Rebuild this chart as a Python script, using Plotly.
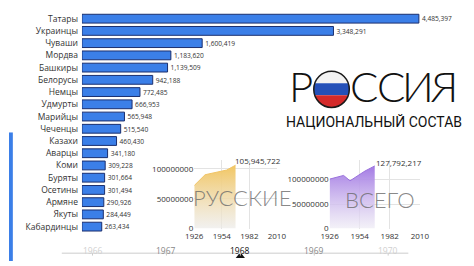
import math
import plotly.graph_objects as go

# ---------------- data ----------------
nations = ["Татары", "Украинцы", "Чуваши", "Мордва", "Башкиры", "Белорусы", "Немцы",
           "Удмурты", "Марийцы", "Чеченцы", "Казахи", "Аварцы", "Коми", "Буряты",
           "Осетины", "Армяне", "Якуты", "Кабардинцы"]
counts = [4485397, 3348291, 1600419, 1183620, 1139509, 942188, 772485,
          666953, 565948, 515540, 460430, 341180, 309228, 301664,
          301494, 290926, 284449, 263434]

russ_years = [1926, 1937, 1959, 1968]
russ_vals = [72000000, 90000000, 97900000, 105945722]

total_years = [1926, 1939, 1945, 1959, 1968]
total_vals = [100900000, 108400000, 97500000, 117500000, 127792217]

area_ticks_x = [1926, 1954, 1982, 2010]
area_ticks_y = [0, 50000000, 100000000]

timeline_years = [1966, 1967, 1968, 1969, 1970]
current_year = 1968

W, H = 474, 266
def px(x):
    return x / W
def py(y):
    return 1 - y / H

LABEL_FONT = "Open Sans, Noto Sans, sans-serif"
TITLE_FONT = "Roboto, Liberation Sans, sans-serif"
THIN_FONT = "Lato, Roboto, sans-serif"

fig = go.Figure()

# ---------------- bar chart ----------------
fig.add_trace(go.Bar(
    x=counts, y=nations, orientation="h",
    marker=dict(color="#3b7fe8", line=dict(color="#1b2f6e", width=1)),
    width=0.72,
    text=counts, texttemplate="%{x:,}", textposition="outside",
    textfont=dict(size=8.3, color="#333", family=LABEL_FONT),
    cliponaxis=False, xaxis="x", yaxis="y", showlegend=False,
))

# ---------------- area charts ----------------
fig.add_trace(go.Scatter(
    x=russ_years, y=russ_vals, mode="lines", fill="tozeroy",
    line=dict(color="#f0c466", width=1),
    fillgradient=dict(type="vertical", start=0, stop=max(russ_vals),
                      colorscale=[[0, "rgba(236,236,236,0.7)"], [1, "rgba(242,198,98,1)"]]),
    xaxis="x2", yaxis="y2", showlegend=False, hoverinfo="skip",
))
fig.add_trace(go.Scatter(
    x=total_years, y=total_vals, mode="lines", fill="tozeroy",
    line=dict(color="#9a72dc", width=1),
    fillgradient=dict(type="vertical", start=0, stop=max(total_vals),
                      colorscale=[[0, "rgba(240,238,245,0.7)"], [1, "rgba(163,122,228,1)"]]),
    xaxis="x3", yaxis="y3", showlegend=False, hoverinfo="skip",
))

# timeline marker
fig.add_trace(go.Scatter(
    x=[current_year], y=[0.5], mode="markers",
    marker=dict(symbol="triangle-up", size=8, color="#111"),
    xaxis="x4", yaxis="y4", showlegend=False, hoverinfo="skip",
))

area_axis_common = dict(
    showgrid=True, gridcolor="#e3e3e3", zeroline=False, showline=False,
    tickfont=dict(size=8, color="#333", family=LABEL_FONT), ticks="",
)

fig.update_layout(
    width=W, height=H, margin=dict(l=0, r=0, t=0, b=0),
    paper_bgcolor="white", plot_bgcolor="rgba(0,0,0,0)",
    xaxis=dict(domain=[px(76), px(450)], range=[0, counts[0] * (450 - 76) / 351],
               visible=False, fixedrange=True),
    yaxis=dict(domain=[py(237.2), py(12.8)], autorange="reversed",
               showgrid=False, zeroline=False, showline=False, ticks="",
               ticklabelstandoff=3,
               tickfont=dict(size=8.5, color="#333", family=LABEL_FONT)),
    xaxis2=dict(domain=[px(193), px(279)], range=[1926, 2010], tickvals=area_ticks_x,
                anchor="y2", ticklabelstandoff=1, **area_axis_common),
    yaxis2=dict(domain=[py(233), py(163)], range=[0, 114750000], tickvals=area_ticks_y,
                tickformat="d", anchor="x2", **area_axis_common),
    xaxis3=dict(domain=[px(334), px(428)], range=[1926, 2010], tickvals=area_ticks_x,
                anchor="y3", ticklabelstandoff=1, **area_axis_common),
    yaxis3=dict(domain=[py(233), py(163)], range=[0, 140000000], tickvals=area_ticks_y,
                tickformat="d", anchor="x3", **area_axis_common),
    xaxis4=dict(domain=[0, 1], range=[current_year - 241 / 77, current_year + (W - 241) / 77],
                visible=False, anchor="y4"),
    yaxis4=dict(domain=[py(264), py(258)], range=[0, 1], visible=False, anchor="x4"),
)

ann = []
# last-value labels on area charts
ann.append(dict(x=russ_years[-1], y=russ_vals[-1], xref="x2", yref="y2",
                text=f"{russ_vals[-1]:,}", showarrow=False, xanchor="left", yanchor="bottom",
                xshift=-3, yshift=-3, font=dict(size=8, color="#333", family=LABEL_FONT)))
ann.append(dict(x=total_years[-1], y=total_vals[-1], xref="x3", yref="y3",
                text=f"{total_vals[-1]:,}", showarrow=False, xanchor="left", yanchor="bottom",
                xshift=-1, yshift=-4, font=dict(size=8, color="#333", family=LABEL_FONT)))
# overlay words
ann.append(dict(x=px(243), y=py(201), xref="paper", yref="paper", text="РУССКИЕ",
                showarrow=False, xanchor="center", yanchor="middle",
                font=dict(size=22, color="rgba(105,105,105,0.8)", family=THIN_FONT, weight=300)))
ann.append(dict(x=px(387), y=py(203), xref="paper", yref="paper", text="ВСЕГО",
                showarrow=False, xanchor="center", yanchor="middle",
                font=dict(size=22, color="rgba(105,105,105,0.8)", family=THIN_FONT, weight=300)))
# title letters (the "О" is the flag circle)
for letter, cxp in [("Р", 304), ("С", 370), ("С", 398), ("И", 426), ("Я", 454)]:
    ann.append(dict(x=px(cxp), y=py(88), xref="paper", yref="paper", text=letter,
                    showarrow=False, xanchor="center", yanchor="middle",
                    font=dict(size=42, color="#111", family=THIN_FONT, weight=300)))
ann.append(dict(x=px(380), y=py(124), xref="paper", yref="paper", text="НАЦИОНАЛЬНЫЙ СОСТАВ",
                showarrow=False, xanchor="center", yanchor="middle",
                font=dict(size=14, color="#111", family=TITLE_FONT)))
# timeline labels
for yr in timeline_years:
    d = abs(yr - current_year)
    col = "#111" if d == 0 else ("#888" if d == 1 else "#d0d0d0")
    ann.append(dict(x=yr, y=py(255), xref="x4", yref="paper", text=str(yr), showarrow=False,
                    xanchor="center", yanchor="middle",
                    font=dict(size=8.5, color=col, family=LABEL_FONT)))

shapes = []
# left blue strip
shapes.append(dict(type="rect", xref="paper", yref="paper", x0=0, x1=px(4), y0=py(266), y1=py(135),
                   fillcolor="#3b7fe8", line=dict(width=0)))
# timeline line + ticks
shapes.append(dict(type="line", xref="x4", yref="paper", x0=current_year - 186 / 77,
                   x1=current_year + 175 / 77, y0=py(258), y1=py(258),
                   line=dict(color="#dddddd", width=1.5)))
for yr in timeline_years:
    shapes.append(dict(type="line", xref="x4", yref="paper", x0=yr, x1=yr, y0=py(258), y1=py(260.5),
                       line=dict(color="#cccccc", width=1)))

# flag circle
cx, cy, r = 336, 91, 18.5
def band(y_top, y_bot, color):
    n = 16
    left, right = [], []
    for i in range(n + 1):
        yy = y_top + (y_bot - y_top) * i / n
        dx = math.sqrt(max(r * r - (yy - cy) ** 2, 0))
        left.append((cx - dx, yy))
        right.append((cx + dx, yy))
    pts = left + right[::-1]
    path = "M " + " L ".join(f"{px(a):.5f},{py(b):.5f}" for a, b in pts) + " Z"
    return dict(type="path", xref="paper", yref="paper", path=path,
                fillcolor=color, line=dict(width=0))
shapes.append(band(cy - r, cy - r / 3, "#f2f2f2"))
shapes.append(band(cy - r / 3, cy + r / 3, "#2450b8"))
shapes.append(band(cy + r / 3, cy + r, "#d42a2a"))
shapes.append(dict(type="circle", xref="paper", yref="paper", x0=px(cx - r), x1=px(cx + r),
                   y0=py(cy + r), y1=py(cy - r), line=dict(color="#1a1a1a", width=1.5)))

fig.update_layout(annotations=ann, shapes=shapes)

fig.write_html("out.html")
